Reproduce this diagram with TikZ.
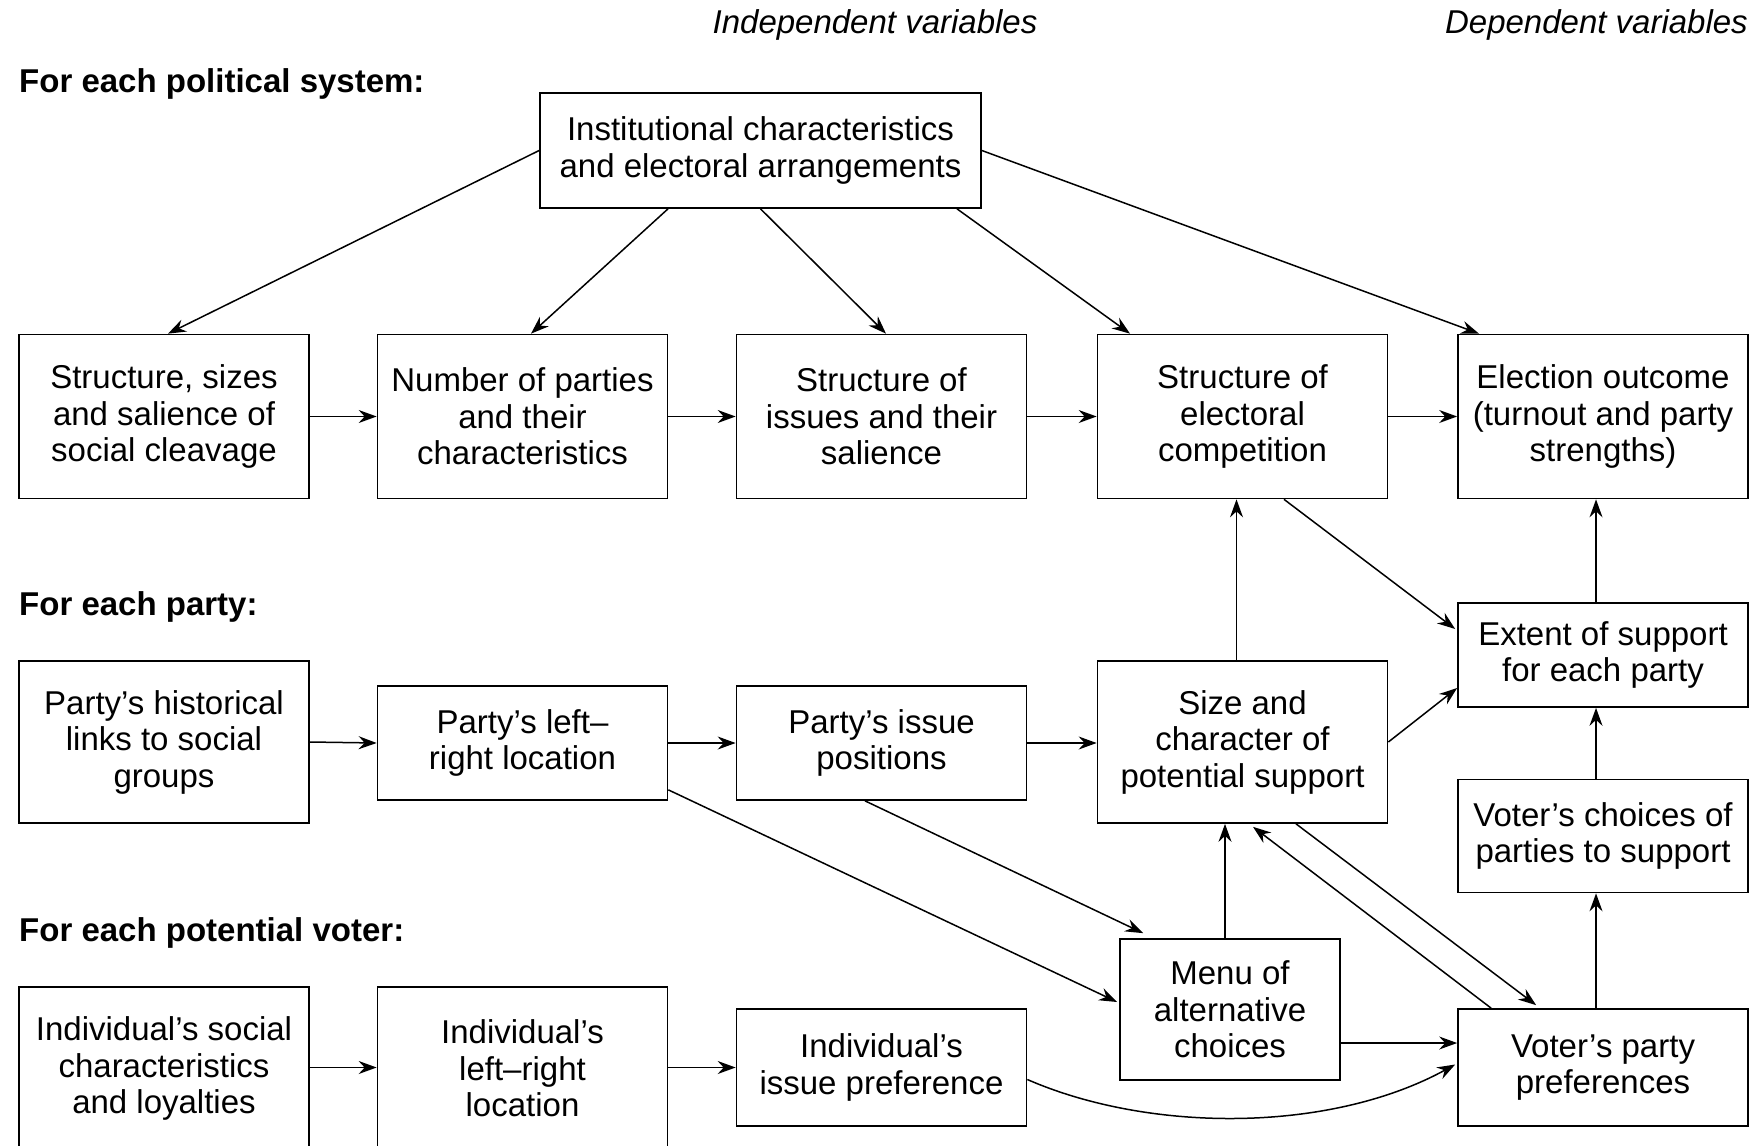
\documentclass[tikz,border=0pt]{standalone}
\usepackage{fontspec}
\setmainfont{Liberation Sans}
\usetikzlibrary{arrows.meta,calc}
\begin{document}
\begin{tikzpicture}[x=1pt,y=-1pt,
  txt/.style={font=\fontsize{33}{36.5}\selectfont},
  box/.style={draw,line width=1.7pt,align=center,inner sep=0pt,txt},
  arr/.style={line width=1.5pt,-{Stealth[length=18pt,width=13pt,inset=6pt]}},
  lab/.style={font=\fontsize{33}{36.5}\selectfont\bfseries,anchor=west,inner sep=0pt},
  hdr/.style={font=\fontsize{33}{36.5}\selectfont\itshape,inner sep=0pt}]
\useasboundingbox[fill=white] (0,0) rectangle (1760,1145);

% headers
\node[hdr] (hind) at (875,25) {Independent variables};
\node[hdr,anchor=east] (hdep) at (1748,25) {Dependent variables};
\node[lab] (lsys) at (19,84) {For each political system:};
\node[lab] (lparty) at (19,607) {For each party:};
\node[lab] (lvoter) at (19,933) {For each potential voter:};

% boxes
\node[box,minimum width=441pt,minimum height=115pt] (inst) at (760.5,150.5) {Institutional characteristics\\and electoral arrangements};

\node[box,minimum width=290pt,minimum height=164pt] (b11) at (164,416.5) {Structure, sizes\\and salience of\\social cleavage};
\node[box,minimum width=290pt,minimum height=164pt] (b12) at (522.5,416.5) {Number of parties\\and their\\characteristics};
\node[box,minimum width=290pt,minimum height=164pt] (b13) at (881.5,416.5) {Structure of\\issues and their\\salience};
\node[box,minimum width=290pt,minimum height=164pt] (b14) at (1242.5,416.5) {Structure of\\electoral\\competition};
\node[box,minimum width=290pt,minimum height=164pt] (b15) at (1603,416.5) {Election outcome\\(turnout and party\\strengths)};

\node[box,minimum width=290pt,minimum height=162pt] (hist) at (164,742) {Party’s historical\\links to social\\groups};
\node[box,minimum width=290pt,minimum height=114pt] (plr) at (522.5,743) {Party’s left–\\right location};
\node[box,minimum width=290pt,minimum height=114pt] (pip) at (881.5,743) {Party’s issue\\positions};
\node[box,minimum width=290pt,minimum height=162pt] (size) at (1242.5,742) {Size and\\character of\\potential support};
\node[box,minimum width=290pt,minimum height=104pt] (extent) at (1603,655) {Extent of support\\for each party};
\node[box,minimum width=290pt,minimum height=113pt] (vchoice) at (1603,836) {Voter’s choices of\\parties to support};

\node[box,minimum width=290pt,minimum height=163pt] (isoc) at (164,1068.5) {Individual’s social\\characteristics\\and loyalties};
\node[box,minimum width=290pt,minimum height=163pt] (ilr) at (522.5,1068.5) {Individual’s\\left–right\\location};
\node[box,minimum width=290pt,minimum height=117pt] (ipref) at (881.5,1067.5) {Individual’s\\issue preference};
\node[box,minimum width=220pt,minimum height=141pt] (menu) at (1230,1009.5) {Menu of\\alternative\\choices};
\node[box,minimum width=290pt,minimum height=117pt] (vpp) at (1603,1067.5) {Voter’s party\\preferences};

% institutional arrows
\draw[arr] (inst.west) -- ($(b11.north)+(4,0)$);
\draw[arr] ($(inst.south)+(-92.5,0)$) -- ($(b12.north)+(8.5,0)$);
\draw[arr] (inst.south) -- ($(b13.north)+(4.5,0)$);
\draw[arr] ($(inst.south)+(196.5,0)$) -- ($(b14.north)+(-112.5,0)$);
\draw[arr] (inst.east) -- ($(b15.north)+(-124,0)$);

% row 1
\draw[arr] (b11.east) -- (b12.west);
\draw[arr] (b12.east) -- (b13.west);
\draw[arr] (b13.east) -- (b14.west);
\draw[arr] (b14.east) -- (b15.west);

% row 2
\draw[arr] (hist.east) -- (plr.west);
\draw[arr] (plr.east) -- (pip.west);
\draw[arr] (pip.east) -- (pip.east -| size.west);
\draw[arr] (size.east) -- ($(extent.west)+(0,33)$);
\coordinate (s1) at ($(size.north)+(-6,0)$);
\draw[arr] (s1) -- (s1 |- b14.south);
\draw[arr] ($(b14.south)+(41.5,0)$) -- ($(extent.west)+(-2,-26)$);
\coordinate (e1) at ($(extent.north)+(-7,0)$);
\draw[arr] (e1) -- (e1 |- b15.south);
\coordinate (e2) at ($(vchoice.north)+(-7,0)$);
\draw[arr] (e2) -- (e2 |- extent.south);
\coordinate (e3) at ($(vpp.north)+(-7,0)$);
\draw[arr] (e3) -- (e3 |- vchoice.south);

% row 3
\draw[arr] (isoc.east |- ipref.west) -- (ilr.west |- ipref.west);
\draw[arr] (ilr.east |- ipref.west) -- (ipref.west);
\draw[arr] ($(plr.south east)+(0,-11)$) -- ($(menu.west)+(-2,-7.5)$);
\draw[arr] ($(pip.south)+(-16.5,0)$) -- ($(menu.north west)+(24,-5)$);
\coordinate (m1) at ($(menu.north)+(-5,0)$);
\draw[arr] (m1) -- (m1 |- size.south);
\draw[arr] ($(vpp.north west)+(34,0)$) -- ($(size.south)+(10.5,3)$);
\draw[arr] ($(size.south)+(53.5,0)$) -- ($(vpp.north west)+(79,-3)$);
\coordinate (m2) at ($(menu.east)+(0,33.5)$);
\draw[arr] (m2) -- (m2 -| vpp.west);
\draw[arr] ($(ipref.east)+(0,12)$) .. controls (1150,1133) and (1330,1133) .. ($(vpp.west)+(-2,-3)$);
\end{tikzpicture}
\end{document}
